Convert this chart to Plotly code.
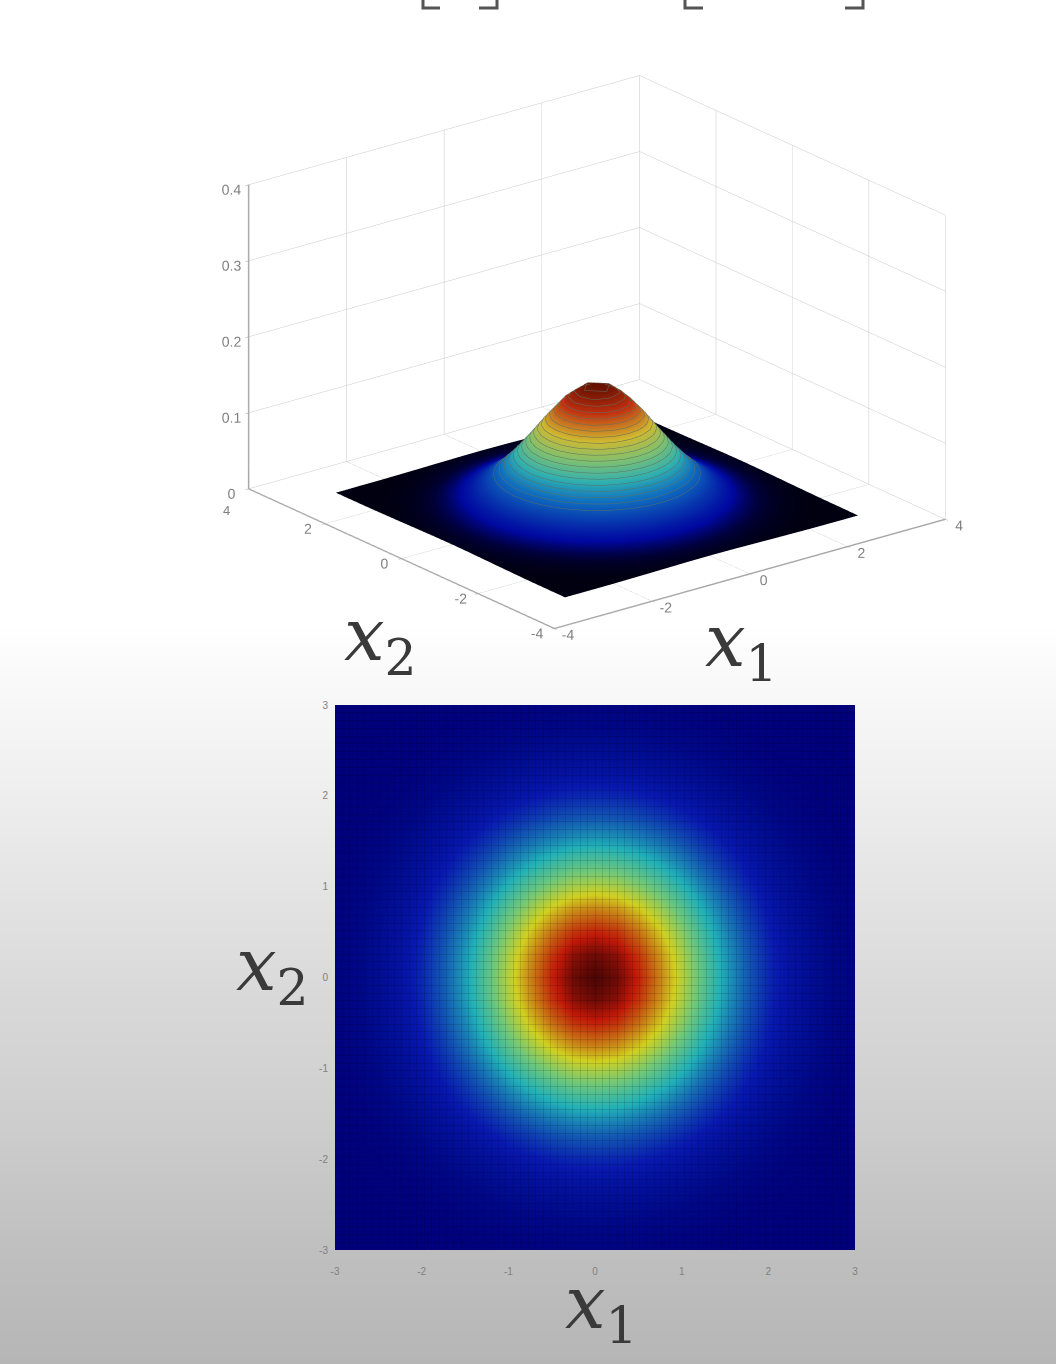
import plotly.graph_objects as go

# Values
grid_axis = [-3.0, -2.75, -2.5, -2.25, -2.0, -1.75, -1.5, -1.25, -1.0, -0.75, -0.5, -0.25, 0.0,
             0.25, 0.5, 0.75, 1.0, 1.25, 1.5, 1.75, 2.0, 2.25, 2.5, 2.75, 3.0]
# density on the quadrant x1 >= 0, x2 >= 0 (step 0.25); the picture is mirror symmetric
density_quadrant = [
    [.1590, .1541, .1403, .1200, .0964, .0728, .0516, .0344, .0215, .0127, .0070, .0036, .0018],
    [.1541, .1494, .1360, .1163, .0935, .0706, .0500, .0333, .0209, .0123, .0068, .0035, .0017],
    [.1403, .1360, .1238, .1059, .0851, .0642, .0455, .0304, .0190, .0112, .0062, .0032, .0016],
    [.1200, .1163, .1059, .0906, .0728, .0550, .0390, .0260, .0162, .0096, .0053, .0027, .0013],
    [.0964, .0935, .0851, .0728, .0585, .0442, .0313, .0209, .0130, .0077, .0042, .0022, .0011],
    [.0728, .0706, .0642, .0550, .0442, .0333, .0236, .0157, .0098, .0058, .0032, .0017, .0008],
    [.0516, .0500, .0455, .0390, .0313, .0236, .0168, .0112, .0070, .0041, .0023, .0012, .0006],
    [.0344, .0333, .0304, .0260, .0209, .0157, .0112, .0074, .0047, .0027, .0015, .0008, .0004],
    [.0215, .0209, .0190, .0162, .0130, .0098, .0070, .0047, .0029, .0017, .0009, .0005, .0002],
    [.0127, .0123, .0112, .0096, .0077, .0058, .0041, .0027, .0017, .0010, .0006, .0003, .0001],
    [.0070, .0068, .0062, .0053, .0042, .0032, .0023, .0015, .0009, .0006, .0003, .0002, .0001],
    [.0036, .0035, .0032, .0027, .0022, .0017, .0012, .0008, .0005, .0003, .0002, .0001, .0000],
    [.0018, .0017, .0016, .0013, .0011, .0008, .0006, .0004, .0002, .0001, .0001, .0000, .0000],
]
ticks_3d_xy = [-4, -2, 0, 2, 4]
ticklabels_3d_x = ["-4", "-2", "0", "2", "4"]
ticklabels_3d_y = ["-4", "-2", "0", "2", ""]
ticks_3d_z = [0, 0.1, 0.2, 0.3, 0.4]
ticklabels_3d_z = ["0", "0.1", "0.2", "0.3", "0.4"]
ticks_2d = [-3, -2, -1, 0, 1, 2, 3]
ticklabels_2d = ["-3", "-2", "-1", "0", "1", "2", "3"]
bg_y = [-10, 124, 248, 372, 496, 620, 744, 868, 992, 1116, 1240, 1374]
bg_grey = [255, 255, 255, 255, 255, 255, 243, 230, 217, 206, 192, 181]

half_rows = [r[:0:-1] + r for r in density_quadrant]
density = half_rows[:0:-1] + half_rows

JET = [[0, "#00007a"], [0.04, "#000c90"], [0.11, "#0818b0"], [0.35, "#20b0b8"], [0.5, "#70c878"],
       [0.65, "#d0d020"], [0.89, "#c01808"], [1, "#4a0505"]]
JET_DARK = [[0, "#000010"], [0.03, "#000038"], [0.09, "#0008a0"], [0.3, "#1070c0"], [0.42, "#30b0b0"],
            [0.55, "#80c070"], [0.68, "#d0b830"], [0.85, "#c03010"], [1, "#601000"]]

fig = go.Figure()

# page background
fig.add_trace(go.Heatmap(x=[-10, 1066], y=bg_y, z=[[g, g] for g in bg_grey], zmin=0, zmax=255,
                         colorscale=[[0, "#000000"], [1, "#ffffff"]], showscale=False,
                         zsmooth="best", hoverinfo="skip", xaxis="x", yaxis="y"))
# flat map
fig.add_trace(go.Heatmap(x=grid_axis, y=grid_axis, z=density, colorscale=JET, showscale=False,
                         zmin=0, zmax=0.159, zsmooth="best", xaxis="x2", yaxis="y2"))
# surface
fig.add_trace(go.Surface(x=grid_axis, y=grid_axis, z=density, colorscale=JET_DARK, showscale=False,
                         cmin=0, cmax=0.159, scene="scene",
                         lighting=dict(ambient=1, diffuse=0, specular=0, roughness=1, fresnel=0),
                         contours=dict(
                             z=dict(show=True, start=0.04, end=0.156, size=0.006,
                                    color="#5a7060", width=1))))

axis3d = dict(range=[-4, 4], tickvals=ticks_3d_xy, title=dict(text=""), showbackground=False,
              gridcolor="#c8c8c8", gridwidth=1, showline=True, linecolor="#a8a8a8", linewidth=3,
              zeroline=False, ticks="outside", ticklen=4, tickcolor="#999999", tickangle=0,
              tickfont=dict(size=13, color="#808080", family="Liberation Sans"))
annot_font = dict(family="DejaVu Serif", size=72, color="#3a3a3a")
labels = [(380, 640, "2"), (741, 646, "1"), (272, 970, "2"), (601, 1308, "1")]

# bracket fragments at the very top of the page
brackets = [(423, 440, 423), (479, 497, 497), (685, 703, 685), (845, 863, 863)]
shapes = []
for x0, x1, xc in brackets:
    other = x1 if xc == x0 else x0
    shapes.append(dict(type="path", xref="x", yref="y", line=dict(color="#555555", width=3),
                       path=f"M{xc},0 L{xc},8 L{other},8"))

tick2d = dict(size=10, color="#808080", family="Liberation Sans")
fig.update_layout(
    width=1056, height=1364, autosize=False, margin=dict(l=0, r=0, t=0, b=0),
    paper_bgcolor="white", plot_bgcolor="rgba(0,0,0,0)", showlegend=False,
    xaxis=dict(domain=[0, 1], range=[0, 1056], visible=False, automargin=False),
    yaxis=dict(domain=[0, 1], range=[1364, 0], visible=False, automargin=False),
    xaxis2=dict(domain=[335 / 1056, 855 / 1056], range=[-3, 3], tickvals=ticks_2d, ticktext=ticklabels_2d,
                anchor="y2", automargin=False, showgrid=False, zeroline=False,
                ticks="outside", ticklen=12, tickcolor="rgba(0,0,0,0)", tickfont=tick2d),
    yaxis2=dict(domain=[114 / 1364, 659 / 1364], range=[-3, 3], tickvals=ticks_2d, ticktext=ticklabels_2d,
                anchor="x2", automargin=False, showgrid=False, zeroline=False,
                ticks="outside", ticklen=4, tickcolor="rgba(0,0,0,0)", tickfont=tick2d),
    # fine mesh over the flat map
    xaxis3=dict(domain=[335 / 1056, 855 / 1056], range=[-3, 3], anchor="y3", dtick=0.0857, automargin=False,
                showgrid=True, gridcolor="rgba(0,0,0,0.12)", gridwidth=1, zeroline=False,
                showticklabels=False, ticks=""),
    yaxis3=dict(domain=[114 / 1364, 659 / 1364], range=[-3, 3], anchor="x3", dtick=0.0857, automargin=False,
                showgrid=True, gridcolor="rgba(0,0,0,0.12)", gridwidth=1, zeroline=False,
                showticklabels=False, ticks=""),
    scene=dict(
        domain=dict(x=[217 / 1056, 977 / 1056], y=[1 - 704 / 1364, 1.0]),
        xaxis={**axis3d, "ticktext": ticklabels_3d_x},
        yaxis={**axis3d, "ticktext": ticklabels_3d_y},
        zaxis={**axis3d, "range": [0, 0.4], "tickvals": ticks_3d_z, "ticktext": ticklabels_3d_z},
        aspectmode="manual", aspectratio=dict(x=1.41, y=1.41, z=0.925),
        camera=dict(projection=dict(type="orthographic"),
                    center=dict(x=0, y=0, z=0), up=dict(x=0, y=0, z=1),
                    eye=dict(x=-0.704, y=-0.90, z=0.437)),
        annotations=[dict(x=-4, y=4, z=0, text="4", showarrow=False, xshift=-22, yshift=-22,
                          font=dict(size=13, color="#808080", family="Liberation Sans"))],
    ),
    shapes=shapes,
    annotations=[dict(x=x, y=y, xref="x", yref="y", showarrow=False, font=annot_font,
                      text=f"<i>x</i><sub>{s}</sub>") for x, y, s in labels],
)
fig.add_trace(go.Scatter(x=[0], y=[0], xaxis="x3", yaxis="y3", mode="markers",
                         marker=dict(opacity=0), hoverinfo="skip"))

fig.write_html("out.html", config=dict(displayModeBar=False),
               post_script="document.body.style.margin='0';")
